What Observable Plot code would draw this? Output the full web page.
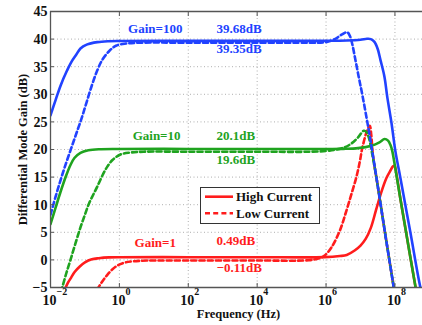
<!DOCTYPE html>
<html>
<head>
<meta charset="utf-8">
<script src="https://cdn.jsdelivr.net/npm/d3@7"></script>
<script src="https://cdn.jsdelivr.net/npm/@observablehq/plot@0.6"></script>
<style>
  html, body { margin: 0; padding: 0; background: #fff; }
  #chart { width: 422px; height: 325px; }
</style>
</head>
<body>
<div id="chart"></div>
<script>
// ---- data (log10 frequency in Hz, gain in dB) ----
const xTicks = [1e-2, 1, 1e2, 1e4, 1e6, 1e8];
const xTickExp = ["\u22122", "0", "2", "4", "6", "8"];
const yTicks = [-5, 0, 5, 10, 15, 20, 25, 30, 35, 40, 45];

const high100 = [[-2.0,26.2],[-1.85,29.0],[-1.7,31.7],[-1.52,34.3],[-1.4,35.8],[-1.25,37.2],[-1.13,38.3],[-0.95,39.0],[-0.64,39.45],[-0.3,39.62],[0,39.66],[2,39.68],[4,39.68],[6,39.7],[6.6,39.75],[7.0,39.88],[7.19,40.05],[7.3,40.0],[7.405,39.5],[7.5,38.2],[7.58,36.2],[7.695,33.2],[7.78,29.4],[7.9,24.8],[8.01,19.8],[8.16,14.8],[8.45,4.9],[8.74,-5],[8.8,-6.2]];
const low100 = [[-2.0,8.2],[-1.85,11.5],[-1.7,14.6],[-1.55,17.5],[-1.4,20.2],[-1.25,22.9],[-1.1,25.6],[-0.95,28.6],[-0.8,31.6],[-0.65,34.2],[-0.5,36.2],[-0.3,37.8],[-0.1,38.8],[0.2,39.2],[0.6,39.35],[2,39.35],[4,39.35],[5.5,39.35],[6.0,39.45],[6.27,40.05],[6.45,40.8],[6.61,41.25],[6.69,40.6],[6.76,39.1],[6.85,36.3],[6.95,33.1],[7.05,30.0],[7.22,24.2],[7.37,18.6],[7.48,14.2],[7.75,3.4],[7.965,-5],[8.0,-6.5]];
const high10 = [[-2.0,6.5],[-1.85,9.5],[-1.71,12.3],[-1.55,15.2],[-1.42,17.2],[-1.3,18.5],[-1.13,19.4],[-0.9,19.85],[-0.6,20.05],[0,20.1],[2,20.1],[4,20.1],[6,20.1],[6.5,20.12],[6.93,20.25],[7.32,20.7],[7.55,21.3],[7.7,21.9],[7.8,21.6],[7.87,20.8],[7.92,19.8],[8.01,16.6],[8.16,11.0],[8.45,0.4],[8.6,-5],[8.65,-6.8]];
const low10 = [[-1.7,-5.8],[-1.66,-5],[-1.55,-2.6],[-1.42,0],[-1.28,2.9],[-1.13,5.9],[-1.0,8.2],[-0.89,10.1],[-0.76,11.8],[-0.64,13.3],[-0.5,15.2],[-0.35,16.9],[-0.2,18.1],[0.03,19.1],[0.32,19.45],[0.7,19.6],[2,19.6],[4,19.6],[5.5,19.6],[6.1,19.8],[6.54,20.4],[6.74,21.1],[6.93,22.2],[7.095,23.4],[7.17,23.2],[7.24,22.2],[7.34,19.2],[7.48,14.2],[7.75,3.4],[7.965,-5],[8.0,-6.5]];
const high1 = [[-1.6,-5.6],[-1.5,-4.2],[-1.4,-3.2],[-1.3,-2.2],[-1.15,-1.2],[-1.0,-0.45],[-0.8,0.1],[-0.6,0.3],[-0.3,0.45],[0,0.49],[2,0.49],[4,0.49],[5.96,0.5],[6.4,0.7],[6.6,0.9],[6.83,1.7],[7.0,2.6],[7.15,3.8],[7.3,5.8],[7.45,9.0],[7.6,12.2],[7.75,14.8],[7.87,16.2],[7.95,17.0],[7.99,17.0],[8.05,15.3],[8.16,11.0],[8.45,0.4],[8.6,-5],[8.65,-6.8]];
const low1 = [[-0.65,-5.4],[-0.55,-4.4],[-0.45,-3.5],[-0.35,-2.7],[-0.2,-1.7],[-0.05,-1.0],[0.15,-0.5],[0.4,-0.25],[0.8,-0.12],[2,-0.11],[4,-0.11],[5.5,-0.05],[5.8,0.3],[5.96,0.8],[6.16,2.3],[6.4,5.3],[6.59,8.9],[6.74,12.0],[6.88,15.0],[6.98,17.8],[7.05,20.2],[7.19,23.4],[7.27,24.3],[7.31,22.8],[7.36,19.0],[7.48,14.2],[7.75,3.4],[7.965,-5],[8.0,-6.5]];

// annotations: [text, log10 f, dB, colour key, anchor]
const notes = [
  ["Gain=100", 1.04, 41.9, "b", "middle"],
  ["39.68dB", 2.82, 41.8, "b", "start"],
  ["39.35dB", 2.82, 38.2, "b", "start"],
  ["Gain=10", 1.08, 22.45, "g", "middle"],
  ["20.1dB", 2.82, 22.45, "g", "start"],
  ["19.6dB", 2.82, 18.1, "g", "start"],
  ["Gain=1", 1.04, 3.06, "r", "middle"],
  ["0.49dB", 2.82, 3.42, "r", "start"],
  ["\u22120.11dB", 2.82, -1.38, "r", "start"]
];
const legendLabels = ["High Current", "Low Current"];

// ---- styling ----
const C = {b: "#2142ff", g: "#1fa31f", r: "#ff1c1c"};
const FONT = "'Liberation Serif', 'Times New Roman', serif";
const DASH = "5,3.2";
const SW = 2.6;
const toRow = d => ({f: 10 ** d[0], g: d[1]});

const series = [
  {data: low1, color: C.r, dash: DASH},
  {data: high1, color: C.r, dash: null},
  {data: low10, color: C.g, dash: DASH},
  {data: high10, color: C.g, dash: null},
  {data: low100, color: C.b, dash: DASH},
  {data: high100, color: C.b, dash: null}
];

const axisColor = "#555";

const plot = Plot.plot({
  width: 422,
  height: 325,
  marginLeft: 50,
  marginRight: 0,
  marginTop: 11,
  marginBottom: 38,
  style: {fontFamily: FONT, fontWeight: "bold", fontSize: "14px", background: "#fff", color: "#111"},
  x: {type: "log", domain: [1e-2, 10 ** 8.8], axis: null},
  y: {domain: [-5, 45], axis: null},
  marks: [
    Plot.gridX(xTicks, {stroke: "#9a9a9a", strokeOpacity: 1, strokeDasharray: "1,2.5", strokeWidth: 0.8}),
    Plot.gridY(yTicks, {stroke: "#9a9a9a", strokeOpacity: 1, strokeDasharray: "1,2.5", strokeWidth: 0.8}),
    ...series.map(s => Plot.line(s.data.map(toRow), {
      x: "f", y: "g", stroke: s.color, strokeWidth: SW,
      strokeDasharray: s.dash, clip: true, curve: "catmull-rom"
    })),
    // frame (left, top, bottom)
    Plot.ruleY([-5, 45], {stroke: axisColor, strokeWidth: 1.3}),
    Plot.ruleX([1e-2], {stroke: axisColor, strokeWidth: 1.3}),
    // inward ticks
    Plot.axisX(xTicks, {anchor: "bottom", tickSize: -4, tickFormat: () => "", label: null, stroke: axisColor}),
    Plot.axisX(xTicks, {anchor: "top", tickSize: -4, tickFormat: () => "", label: null, stroke: axisColor}),
    Plot.axisY(yTicks, {anchor: "left", tickSize: -4, tickFormat: () => "", label: null, stroke: axisColor}),
    // y tick labels
    Plot.text(yTicks, {x: 1e-2, y: d => d, text: d => d < 0 ? "\u2212" + Math.abs(d) : String(d),
      textAnchor: "end", lineAnchor: "middle", dx: -3, dy: 0.5, fontSize: 14, fontWeight: "bold", fill: "#111"}),
    // x tick labels: 10 with superscript exponent
    Plot.text(xTicks, {x: d => d, frameAnchor: "bottom", text: () => "10", textAnchor: "end", lineAnchor: "middle",
      dx: 6, dy: 13, fontSize: 14, fontWeight: "bold", fill: "#111"}),
    Plot.text(xTicks, {x: d => d, frameAnchor: "bottom", text: (d, i) => xTickExp[i], textAnchor: "start", lineAnchor: "middle",
      dx: 6, dy: 4.5, fontSize: 10, fontWeight: "bold", fill: "#111"}),
    // axis titles
    Plot.text(["Frequency (Hz)"], {frameAnchor: "bottom", textAnchor: "middle", lineAnchor: "middle", dx: 2, dy: 26, text: d => d, fontSize: 12.5, fontWeight: "bold", fill: "#111"}),
    Plot.text(["Differential Mode Gain (dB)"], {frameAnchor: "left", textAnchor: "middle", lineAnchor: "middle", dx: -28, rotate: -90, text: d => d, fontSize: 12.5, fontWeight: "bold", fill: "#111"}),
    // annotations
    Plot.text(notes, {x: d => 10 ** d[1], y: d => d[2], text: d => d[0], fill: d => C[d[3]],
      textAnchor: "start", lineAnchor: "middle", fontSize: 13, fontWeight: "bold", filter: d => d[4] === "start"}),
    Plot.text(notes, {x: d => 10 ** d[1], y: d => d[2], text: d => d[0], fill: d => C[d[3]],
      textAnchor: "middle", lineAnchor: "middle", fontSize: 13, fontWeight: "bold", filter: d => d[4] === "middle"})
  ]
});

document.getElementById("chart").appendChild(plot);

// legend box
const svg = d3.select(plot);
const lg = svg.append("g").attr("font-family", FONT).attr("font-weight", "bold").attr("font-size", 13)
  .attr("text-anchor", "start");
lg.append("rect").attr("x", 200.5).attr("y", 187.5).attr("width", 119).attr("height", 36)
  .attr("fill", "#fff").attr("stroke", "#333").attr("stroke-width", 1);
legendLabels.forEach((t, i) => {
  const cy = 196.7 + i * 16.6;
  lg.append("line").attr("x1", 205).attr("x2", 233).attr("y1", cy).attr("y2", cy)
    .attr("stroke", C.r).attr("stroke-width", SW).attr("stroke-dasharray", i ? DASH : null);
  lg.append("text").attr("x", 236).attr("y", cy).attr("dy", "0.35em").attr("text-anchor", "start")
    .attr("fill", "#111").text(t);
});
</script>
</body>
</html>
